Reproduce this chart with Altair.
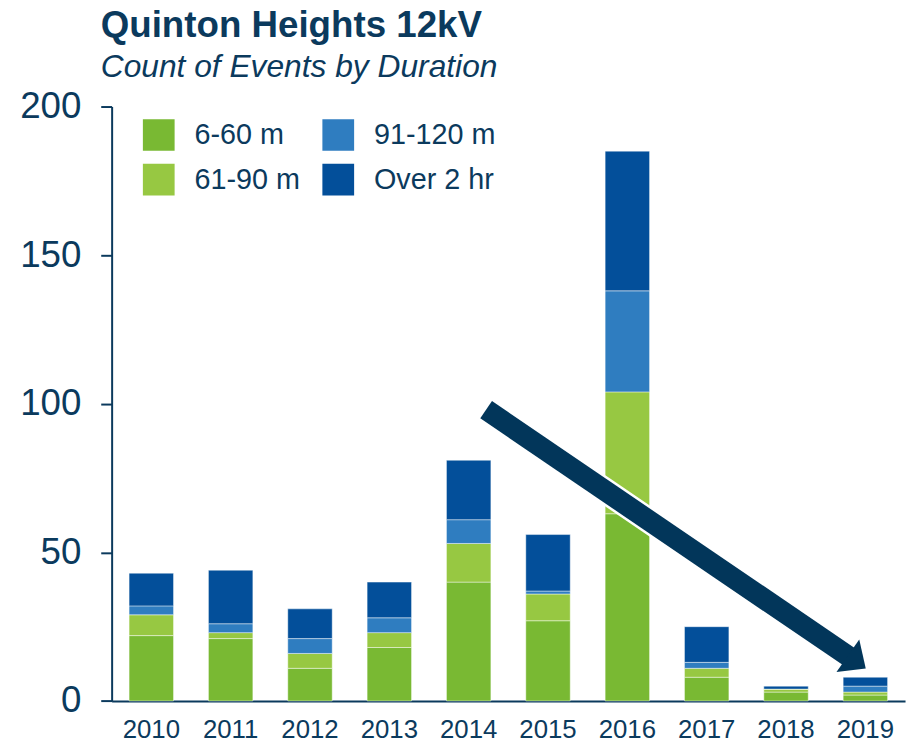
import altair as alt
import pandas as pd

# ---- data ----
years = ["2010", "2011", "2012", "2013", "2014", "2015", "2016", "2017", "2018", "2019"]
series = ["6-60 m", "61-90 m", "91-120 m", "Over 2 hr"]
v_6_60 = [22, 21, 11, 18, 40, 27, 63, 8, 3, 2]
v_61_90 = [7, 2, 5, 5, 13, 9, 41, 3, 1, 1]
v_91_120 = [3, 3, 5, 5, 8, 1, 34, 2, 0, 2]
v_over2 = [11, 18, 10, 12, 20, 19, 47, 12, 1, 3]
series_colors = ["#79B933", "#97C842", "#2F7DC0", "#034F9A"]

# annotation arrow (in data units: year position, count)
arrow_year = [2014.22, 2018.8]
arrow_count = [98.0, 14.8]

NAVY = "#0B3A5D"
ARROW = "#02365A"
FONT = "Liberation Sans"

rows = []
for i, yr in enumerate(years):
    for k, (s, vals) in enumerate(zip(series, [v_6_60, v_61_90, v_91_120, v_over2])):
        rows.append({"year": yr, "dur": s, "count": vals[i], "ord": k})
df = pd.DataFrame(rows)

shaft_df = pd.DataFrame({"x": [arrow_year[0]], "y": [arrow_count[0]],
                         "x2": [arrow_year[1]], "y2": [arrow_count[1]]})
head_df = pd.DataFrame({"x": [arrow_year[1]], "y": [arrow_count[1]]})

bars = alt.Chart(df).mark_bar(stroke="white", strokeWidth=1, strokeOpacity=0.45).encode(
    x=alt.X("year:N", sort=years,
            scale=alt.Scale(paddingInner=0.44, paddingOuter=0.22),
            axis=alt.Axis(title=None, labelAngle=0, ticks=False, tickSize=0,
                          labelPadding=16, labelFontSize=26)),
    y=alt.Y("count:Q", stack="zero",
            scale=alt.Scale(domain=[0, 200], nice=False),
            axis=alt.Axis(values=[0, 50, 100, 150, 200], title=None, grid=False,
                          tickSize=11, tickWidth=2, labelPadding=20, labelFontSize=37)),
    color=alt.Color("dur:N",
                    scale=alt.Scale(domain=series, range=series_colors),
                    legend=alt.Legend(orient="none", legendX=31.5, legendY=12.7,
                                      columns=2, title=None, symbolType="square",
                                      symbolSize=1024, symbolStrokeWidth=0,
                                      labelFontSize=29, labelColor=NAVY, labelFont=FONT,
                                      labelOffset=20, columnPadding=22, rowPadding=13,
                                      padding=0, labelLimit=400)),
    order=alt.Order("ord:Q", sort="ascending"),
)

xq = alt.X("x:Q", scale=alt.Scale(domain=[2009.5, 2019.5], nice=False, zero=False), axis=None)

shaft_white = alt.Chart(shaft_df).mark_rule(color="white", strokeWidth=26, strokeCap="butt").encode(
    x=xq, x2="x2:Q", y=alt.Y("y:Q", title=None), y2="y2:Q")
shaft = alt.Chart(shaft_df).mark_rule(color=ARROW, strokeWidth=21, strokeCap="butt").encode(
    x=xq, x2="x2:Q", y=alt.Y("y:Q", title=None), y2="y2:Q")
head = alt.Chart(head_df).mark_point(shape="M -0.1 -1 L 1 0 L -0.1 1 Z", size=1600, angle=35,
                                     filled=True, fill=ARROW, opacity=1, strokeWidth=0).encode(
    x=xq, y=alt.Y("y:Q", title=None))

chart = alt.layer(bars, shaft_white, shaft, head).resolve_scale(x="independent").properties(
    width=800, height=599.4,
    title=alt.Title("Quinton Heights 12kV", subtitle="Count of Events by Duration",
                    anchor="start", frame="group", dx=-11, offset=4, subtitlePadding=7,
                    font=FONT, fontSize=37, fontWeight="bold", color=NAVY,
                    subtitleFont=FONT, subtitleFontSize=32, subtitleFontStyle="italic",
                    subtitleColor=NAVY),
    padding={"left": 104.5, "top": 96.3, "right": 5, "bottom": 42},
    autosize=alt.AutoSizeParams(type="none"),
).configure_view(stroke=None).configure_axis(
    domainColor=NAVY, domainWidth=2, tickColor=NAVY, labelColor=NAVY, labelFont=FONT,
)

chart.save("out.html", embed_options={"renderer": "svg", "actions": False})
